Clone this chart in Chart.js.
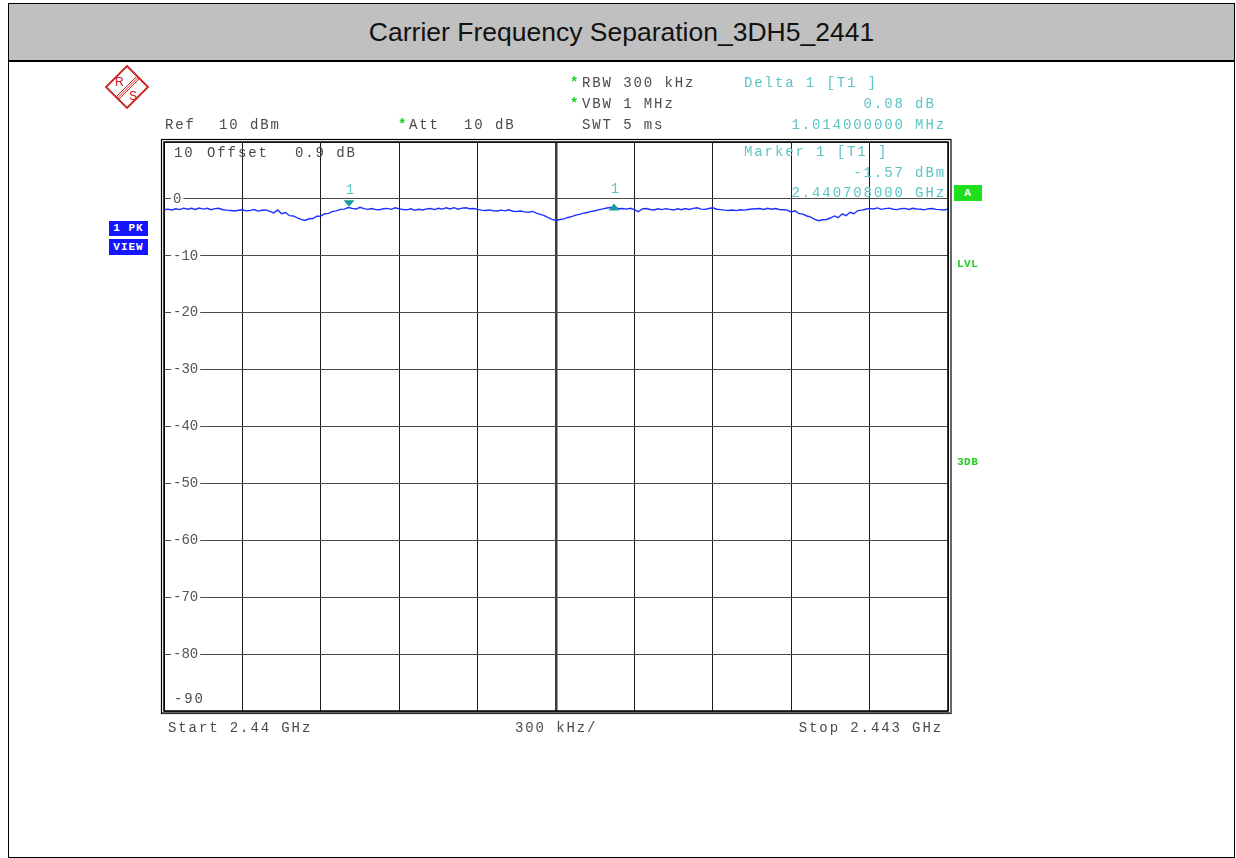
<!DOCTYPE html>
<html>
<head>
<meta charset="utf-8">
<script src="https://cdn.jsdelivr.net/npm/chart.js@4/dist/chart.umd.min.js"></script>
<style>
  html, body { margin: 0; padding: 0; background: #fff; }
  #page { position: relative; width: 1236px; height: 858px; overflow: hidden; }
  #frame { position: absolute; left: 8px; top: 3px; width: 1225px; height: 853px; border: 1px solid #000; }
  #titlebar { position: absolute; left: 9px; top: 4px; width: 1225px; height: 56px; background: #c0c0c0;
              border-bottom: 2px solid #000; font: 26.5px "Liberation Sans", Arial, sans-serif; color: #111;
              text-align: center; line-height: 56px; }
  #plot { position: absolute; left: 0; top: 0; }
  .t { position: absolute; font: 14px "Liberation Mono", "DejaVu Sans Mono", monospace; letter-spacing: 1.9px;
       color: #4a4a4a; white-space: pre; line-height: 14px; }
  .mk { color: #5cc4c4; }
  .star { color: #22cc22; letter-spacing: 0; font-weight: bold; }
  .r { text-align: right; }
  .box { position: absolute; background: #1414ff; color: #fff; font: bold 11px "Liberation Mono", monospace;
         letter-spacing: 1px; text-align: center; }
  .grn { position: absolute; color: #22cc22; font: bold 11px "Liberation Mono", monospace; letter-spacing: 0.5px; }
</style>
</head>
<body>
<div id="page">
  <div id="frame"></div>
  <div id="titlebar">Carrier Frequency Separation_3DH5_2441</div>

  <svg style="position:absolute;left:100px;top:60px" width="56" height="54" viewBox="100 60 56 54">
    <polygon points="127,66 148,87 127,108 106,87" fill="none" stroke="#cc2020" stroke-width="1.8"/>
    <line x1="115.5" y1="97.5" x2="136.5" y2="76.5" stroke="#cc2020" stroke-width="1"/>
    <line x1="117" y1="98.5" x2="138" y2="77.5" stroke="#cc2020" stroke-width="1"/>
    <line x1="118.5" y1="99.5" x2="139.5" y2="78.5" stroke="#cc2020" stroke-width="1"/>
    <text x="115" y="86" fill="#cc2020" font-family="Liberation Sans, Arial" font-size="12">R</text>
    <text x="129" y="100" fill="#cc2020" font-family="Liberation Sans, Arial" font-size="12">S</text>
  </svg>

  <canvas id="plot" width="1236" height="858"></canvas>

  <!-- instrument settings -->
  <div class="t" style="left:165px;top:118px">Ref</div>
  <div class="t" style="left:219px;top:118px">10 dBm</div>
  <div class="t" style="left:398px;top:118px"><span class="star">*</span></div>
  <div class="t" style="left:409px;top:118px">Att</div>
  <div class="t" style="left:464px;top:118px">10 dB</div>
  <div class="t" style="left:570px;top:76px"><span class="star">*</span></div>
  <div class="t" style="left:582px;top:76px">RBW 300 kHz</div>
  <div class="t" style="left:570px;top:97px"><span class="star">*</span></div>
  <div class="t" style="left:582px;top:97px">VBW 1 MHz</div>
  <div class="t" style="left:582px;top:118px">SWT 5 ms</div>

  <!-- marker readouts -->
  <div class="t mk" style="left:744px;top:76px">Delta 1 [T1 ]</div>
  <div class="t mk r" id="deltaLevelTxt" style="right:290px;top:97px"></div>
  <div class="t mk r" id="deltaFreqTxt" style="right:290px;top:118px"></div>
  <div class="t mk" style="left:744px;top:145px">Marker 1 [T1 ]</div>
  <div class="t mk r" id="m1LevelTxt" style="right:290px;top:166px"></div>
  <div class="t mk r" id="m1FreqTxt" style="right:290px;top:186px"></div>

  <!-- in-grid labels -->
  <div class="t" style="left:174px;top:146px">10</div>
  <div class="t" style="left:207px;top:146px">Offset</div>
  <div class="t" style="left:295px;top:146px">0.9 dB</div>
  <div class="t" style="left:174px;top:692px">-90</div>

  <!-- frequency axis -->
  <div class="t" style="left:168px;top:721px">Start 2.44 GHz</div>
  <div class="t" style="left:515px;top:721px">300 kHz/</div>
  <div class="t r" style="right:293px;top:721px">Stop 2.443 GHz</div>

  <!-- trace and limit tags -->
  <div class="box" style="left:109px;top:221px;width:39px;height:15px;line-height:15px">1 PK</div>
  <div class="box" style="left:109px;top:239px;width:39px;height:16px;line-height:16px">VIEW</div>
  <div class="box" style="left:954px;top:185px;width:28px;height:16px;line-height:16px;background:#1ede1e">A</div>
  <div class="grn" style="left:957px;top:258px">LVL</div>
  <div class="grn" style="left:957px;top:456px">3DB</div>
</div>

<script>
// Sweep settings (MHz)
const startMHz = 2440.0;
const stopMHz = 2443.0;

// Vertical grid: 300 kHz per division
const freqGridMHz = [2440.0, 2440.3, 2440.6, 2440.9, 2441.2, 2441.5, 2441.8, 2442.1, 2442.4, 2442.7, 2443.0];
// Level grid (dBm), 10 dB per division
const levelGridDbm = [10, 0, -10, -20, -30, -40, -50, -60, -70, -80, -90];

// Peak-hold trace, 201 sweep points across the span (dBm)
const traceDbm = [
  -1.92, -1.80, -1.95, -1.74, -1.88, -1.62, -1.82, -1.66, -1.86, -1.60, -1.80, -1.66, -1.90, -1.70, -1.64, -1.90, -1.98,
  -2.04, -2.12, -2.00, -1.92, -2.10, -2.02, -1.86, -2.14, -2.00, -1.94,
  -2.20, -2.45, -1.95, -2.60, -2.40, -2.95, -3.00, -3.35,
  -3.60, -3.78, -3.50, -3.45, -3.05, -3.00, -2.60, -2.55, -2.20, -2.10, -1.85, -1.80,
  -1.52, -1.66, -1.78, -1.48, -1.72, -1.84, -1.70, -1.88, -1.90, -1.72, -1.66, -1.84, -1.56, -1.76, -1.86, -1.92,
  -1.74, -2.00, -1.82, -1.94, -1.76, -1.70, -1.88, -1.64, -1.80, -1.56, -1.76, -1.54, -1.80, -1.62, -1.56, -1.74, -1.70,
  -1.85, -1.98, -2.04, -1.94, -2.08, -2.12, -1.98, -2.10, -1.92, -2.16, -2.22, -2.14, -2.28, -2.34, -2.20,
  -2.50, -2.72, -2.95, -3.30, -3.60,
  -3.78, -3.62, -3.52, -3.26, -3.12, -2.86, -2.72, -2.50, -2.38, -2.20, -2.08, -1.88, -1.76, -1.60,
  -1.50, -1.48, -1.72, -1.68, -1.80, -1.64, -1.88, -2.25, -1.76, -1.70, -1.86, -1.94, -1.74, -1.88, -1.72, -1.84,
  -1.96, -1.74, -1.90, -1.70, -1.86, -1.66, -1.56, -1.80, -1.84, -1.68, -1.56, -1.82, -1.88, -1.98, -2.04, -1.96,
  -2.06, -1.92, -1.98, -1.86, -1.78, -1.72, -1.68, -1.86, -1.64, -1.82, -1.70, -1.86, -1.90, -1.98,
  -2.30, -2.10, -2.60, -2.68, -3.00, -3.20, -3.60,
  -3.84, -3.66, -3.62, -3.36, -3.00, -3.30, -2.62, -2.95, -2.35, -2.60, -2.05, -1.98, -1.82,
  -1.66, -1.78, -1.58, -1.84, -1.70, -1.62, -1.82, -1.88, -1.72, -1.66, -1.86, -1.64, -1.78, -1.82, -1.92, -1.72,
  -1.68, -1.84, -1.88, -1.94, -1.80
];

// Marker 1 and delta marker readings
const marker1FreqMHz = 2440.708;
const marker1LevelDbm = -1.57;
const deltaFreqMHz = 1.014;
const deltaLevelDb = 0.08;

const stepMHz = (stopMHz - startMHz) / (traceDbm.length - 1);
const tracePoints = traceDbm.map((v, i) => ({ x: startMHz + i * stepMHz, y: v }));
const deltaMarkerFreq = marker1FreqMHz + deltaFreqMHz;
const deltaMarkerLevel = marker1LevelDbm + deltaLevelDb;

document.getElementById('deltaLevelTxt').textContent = deltaLevelDb.toFixed(2) + ' dB ';
document.getElementById('deltaFreqTxt').textContent = deltaFreqMHz.toFixed(9) + ' MHz';
document.getElementById('m1LevelTxt').textContent = marker1LevelDbm.toFixed(2) + ' dBm';
document.getElementById('m1FreqTxt').textContent = (marker1FreqMHz / 1000).toFixed(9) + ' GHz';

const MONO = '"Liberation Mono", "DejaVu Sans Mono", monospace';
const TEAL = '#1a9c9c';

// Double frame round the graticule
const framePlugin = {
  id: 'frame',
  afterDraw(chart) {
    const { ctx, chartArea: a } = chart;
    ctx.save();
    ctx.strokeStyle = '#000';
    ctx.lineWidth = 1.5;
    ctx.strokeRect(a.left, a.top, a.right - a.left, a.bottom - a.top);
    ctx.lineWidth = 1.2;
    ctx.strokeRect(a.left - 2.5, a.top - 2.5, a.right - a.left + 5.5, a.bottom - a.top + 5);
    ctx.fillStyle = '#666';
    ctx.fillRect(a.left - 2, a.bottom + 1, a.right - a.left + 5, 1.5);
    ctx.restore();
  }
};

// Marker symbols placed through the chart scales
const markerPlugin = {
  id: 'markers',
  afterDatasetsDraw(chart) {
    const { ctx, scales: { x, y } } = chart;
    ctx.save();
    ctx.fillStyle = TEAL;
    // Marker 1: downward triangle resting on the trace
    let px = x.getPixelForValue(marker1FreqMHz);
    let py = y.getPixelForValue(marker1LevelDbm);
    ctx.beginPath();
    ctx.moveTo(px - 5.5, py - 7.5);
    ctx.lineTo(px + 5.5, py - 7.5);
    ctx.lineTo(px, py - 1);
    ctx.closePath();
    ctx.fill();
    ctx.fillStyle = '#5cc4c4';
    ctx.font = '14px ' + MONO;
    ctx.textAlign = 'center';
    ctx.textBaseline = 'middle';
    ctx.fillText('1', px + 1, py - 18);
    // Delta marker: upward triangle on the trace
    px = x.getPixelForValue(deltaMarkerFreq);
    py = y.getPixelForValue(deltaMarkerLevel);
    ctx.fillStyle = TEAL;
    ctx.beginPath();
    ctx.moveTo(px - 5.5, py + 3);
    ctx.lineTo(px + 5.5, py + 3);
    ctx.lineTo(px, py - 4);
    ctx.closePath();
    ctx.fill();
    ctx.fillStyle = '#5cc4c4';
    ctx.fillText('1', px + 1, py - 18);
    ctx.restore();
  }
};

new Chart(document.getElementById('plot'), {
  type: 'line',
  data: {
    datasets: [{
      data: tracePoints,
      borderColor: '#1a30ff',
      borderWidth: 1.4,
      pointRadius: 0,
      tension: 0
    }]
  },
  options: {
    responsive: false,
    animation: false,
    devicePixelRatio: 1,
    layout: { padding: { left: 164, top: 142, right: 288, bottom: 147 } },
    plugins: { legend: { display: false }, tooltip: { enabled: false }, title: { display: false } },
    scales: {
      x: {
        type: 'linear',
        min: startMHz,
        max: stopMHz,
        afterBuildTicks(s) { s.ticks = freqGridMHz.map(v => ({ value: v })); },
        afterFit(s) { s.height = 0; },
        ticks: { display: false },
        border: { display: false },
        grid: {
          drawTicks: false,
          color: ctx => ctx.index === 5 ? '#3a3a3a' : '#1a1a1a',
          lineWidth: ctx => ctx.index === 5 ? 2.5 : 1
        }
      },
      y: {
        type: 'linear',
        min: -90,
        max: 10,
        afterBuildTicks(s) { s.ticks = levelGridDbm.map(v => ({ value: v })); },
        afterFit(s) { s.width = 0; },
        border: { display: false },
        grid: { drawTicks: false, color: '#4a4a4a', lineWidth: 1 },
        ticks: {
          mirror: true,
          padding: 9,
          color: '#555',
          font: { family: MONO, size: 14 },
          callback: v => (v === 10 || v === -90) ? '' : String(v),
          showLabelBackdrop: true,
          backdropColor: ctx => (ctx.tick && (ctx.tick.value === 10 || ctx.tick.value === -90)) ? 'rgba(0,0,0,0)' : '#fff',
          backdropPadding: { left: 2, right: 2, top: 0, bottom: 0 }
        }
      }
    }
  },
  plugins: [framePlugin, markerPlugin]
});
</script>
</body>
</html>
